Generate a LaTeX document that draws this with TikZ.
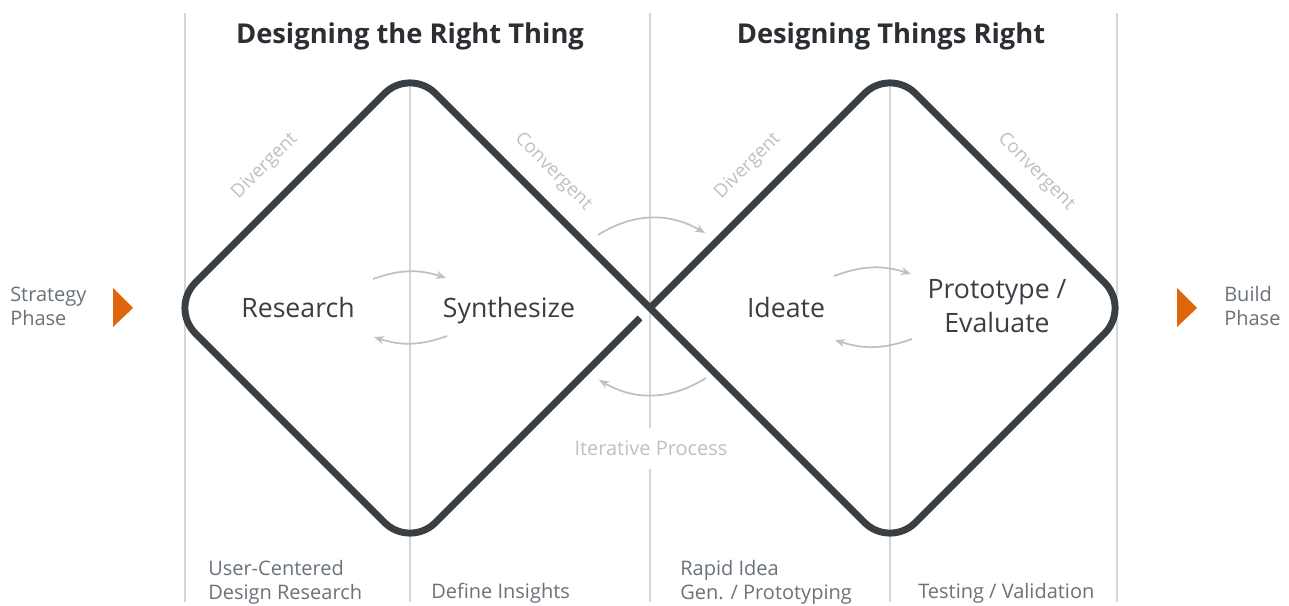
\documentclass[tikz,border=0pt]{standalone}
\usepackage{fontspec}
\setmainfont{Open Sans}
\usepackage{xcolor}
\usepackage{tikz}
\usetikzlibrary{arrows.meta}
\definecolor{loopDark}{HTML}{3A3F44}
\definecolor{titleDark}{HTML}{2B2F33}
\definecolor{labelGray}{HTML}{6A727A}
\definecolor{faintGray}{HTML}{C0C0C0}
\definecolor{ruleGray}{HTML}{D6D6D6}
\definecolor{phaseOrange}{HTML}{E0660C}

\begin{document}
\begin{tikzpicture}[
    x=0.75pt, y=-0.75pt,
    >={Stealth[length=7.5pt,width=6pt]},
    title/.style={font=\bfseries\fontsize{20.5}{24}\selectfont,text=titleDark},
    stage/.style={font=\fontsize{20}{25.5}\selectfont,text=loopDark,
                  align=center,anchor=base},
    mode/.style={font=\fontsize{14}{16}\selectfont,text=faintGray},
    note/.style={font=\fontsize{15}{18}\selectfont,text=labelGray,
                 align=left,anchor=west,inner sep=0pt},
    rule/.style={draw=ruleGray,line width=1.1pt},
    loop/.style={draw=loopDark,line width=5.2pt,rounded corners=27pt},
    turn/.style={->,draw=faintGray,line width=1.3pt},
    marker/.style={fill=phaseOrange}
  ]
  \fill[white] (0,0) rectangle (1289,606);
  \useasboundingbox (0,0) rectangle (1289,606);

  % column rules
  \draw[rule] (185,13) -- (185,602);
  \draw[rule] (1117,13) -- (1117,602);
  \draw[rule] (410,85) -- (410,602);
  \draw[rule] (890,85) -- (890,602);
  \draw[rule] (650,13) -- (650,428);
  \draw[rule] (650,469) -- (650,602);

  % the double diamond, one stroke with a break at the crossing
  \draw[loop] (640,318) -- (410,548) -- (170,308) -- (410,68) -- (650,308)
              -- (890,548) -- (1130,308) -- (890,68) -- (650,308);

  \node[title] (leftTitle)  at (410,36) {Designing the Right Thing};
  \node[title] (rightTitle) at (891,36) {Designing Things Right};

  \node[stage] (research) at (298,317) {Research};
  \node[stage] (synth)    at (509,317) {Synthesize};
  \node[stage] (ideate)   at (786,317) {Ideate};
  \node[stage] (proto)    at (997,332) {Prototype /\\Evaluate};

  \node[mode,rotate=45]  (divL)  at (265,166)  {Divergent};
  \node[mode,rotate=-45] (convL) at (553,172)  {Convergent};
  \node[mode,rotate=45]  (divR)  at (748,166)  {Divergent};
  \node[mode,rotate=-45] (convR) at (1036,172) {Convergent};
  \node[mode,font=\fontsize{15}{18}\selectfont] (iter) at (651,448) {Iterative Process};

  % phase markers
  \node[note] (strategy) at (10,306)   {Strategy\\Phase};
  \node[note] (build)    at (1224,306) {Build\\Phase};
  \fill[marker] (113,288) -- (133,308) -- (113,327) -- cycle;
  \fill[marker] (1177,288) -- (1197,308) -- (1177,327) -- cycle;

  \node[note] (ucdr)     at (208,582) {User-Centered\\Design Research};
  \node[note] (insights) at (431,593) {Define Insights};
  \node[note] (rapid)    at (680,582) {Rapid Idea\\Gen. / Prototyping};
  \node[note] (testing)  at (918,593) {Testing / Validation};

  % iteration arrows
  \coordinate (rsA) at (373,279); \coordinate (rsB) at (446,278);
  \coordinate (rsC) at (447,336); \coordinate (rsD) at (374,337);
  \coordinate (xA) at (598,235);  \coordinate (xB) at (705,233);
  \coordinate (xC) at (706,378);  \coordinate (xD) at (599,380);
  \coordinate (ipA) at (834,276); \coordinate (ipB) at (911,274);
  \coordinate (ipC) at (912,339); \coordinate (ipD) at (835,340);

  \draw[turn] (rsA) to[bend left=19] (rsB);
  \draw[turn] (rsC) to[bend left=19] (rsD);
  \draw[turn] (xA)  to[bend left=31] (xB);
  \draw[turn] (xC)  to[bend left=31] (xD);
  \draw[turn] (ipA) to[bend left=19] (ipB);
  \draw[turn] (ipC) to[bend left=19] (ipD);
\end{tikzpicture}
\end{document}
